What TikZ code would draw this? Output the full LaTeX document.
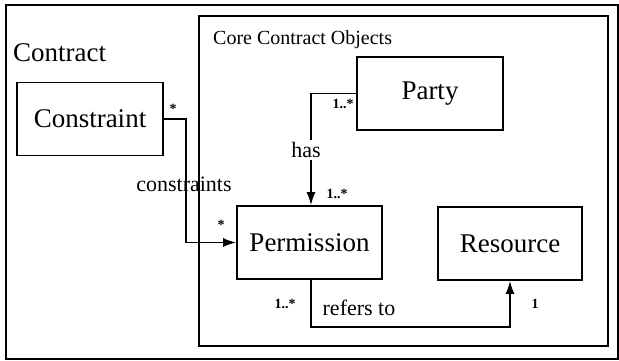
\documentclass[tikz,border=0pt]{standalone}
\usepackage{fontspec}
\setmainfont{Liberation Serif}
\usetikzlibrary{arrows.meta}
\begin{document}
\begin{tikzpicture}[x=1pt,y=-1pt,
  box/.style={draw,line width=1.6pt,minimum width=#1,minimum height=73pt,inner sep=0pt,font=\fontsize{27}{30}\selectfont},
  frame/.style={draw,line width=1.6pt},
  conn/.style={line width=1.8pt,-{Latex[length=13pt,width=9pt]}},
  lbl/.style={font=\fontsize{22}{24}\selectfont,inner sep=1pt},
  mult/.style={font=\bfseries\fontsize{14}{16}\selectfont,inner sep=0pt}]
\useasboundingbox (0,0) rectangle (619,361);
\draw[frame] (6,5) rectangle (618,359);
\draw[frame] (199,16) rectangle (608,346);
\node[anchor=base west,font=\fontsize{27}{30}\selectfont,inner sep=0pt] (contract) at (13,62) {Contract};
\node[anchor=base west,font=\fontsize{20}{22}\selectfont,inner sep=0pt] (core) at (213,45) {Core Contract Objects};
\node[box=146pt] (constraint) at (90,119) {Constraint};
\node[box=146pt] (party) at (430,93.5) {Party};
\node[box=145pt] (permission) at (309.5,242.5) {Permission};
\node[box=144pt] (resource) at (510,243.5) {Resource};
% has
\draw[conn] (party.west) -| ([xshift=1.5pt]permission.north);
\node[lbl,fill=white,inner sep=2pt] (has) at (306,150) {has};
% constraints
\draw[conn] (constraint.east) -- ++(22,0) coordinate (cc) |- (permission.west);
\node[lbl] (constraints) at (184,184) {constraints};
% refers to
\draw[conn] ([xshift=1.5pt]permission.south) -- ++(0,47) coordinate (rr) -| (resource.south);
\node[lbl] (refers) at (359,308) {refers to};
% multiplicities
\node[mult] (m1) at (343,104) {1..*};
\node[mult] (m2) at (337,194) {1..*};
\node[mult] (m3) at (173,109) {*};
\node[mult] (m4) at (221,225) {*};
\node[mult] (m5) at (285,304) {1..*};
\node[mult] (m6) at (535,304) {1};
\end{tikzpicture}
\end{document}
